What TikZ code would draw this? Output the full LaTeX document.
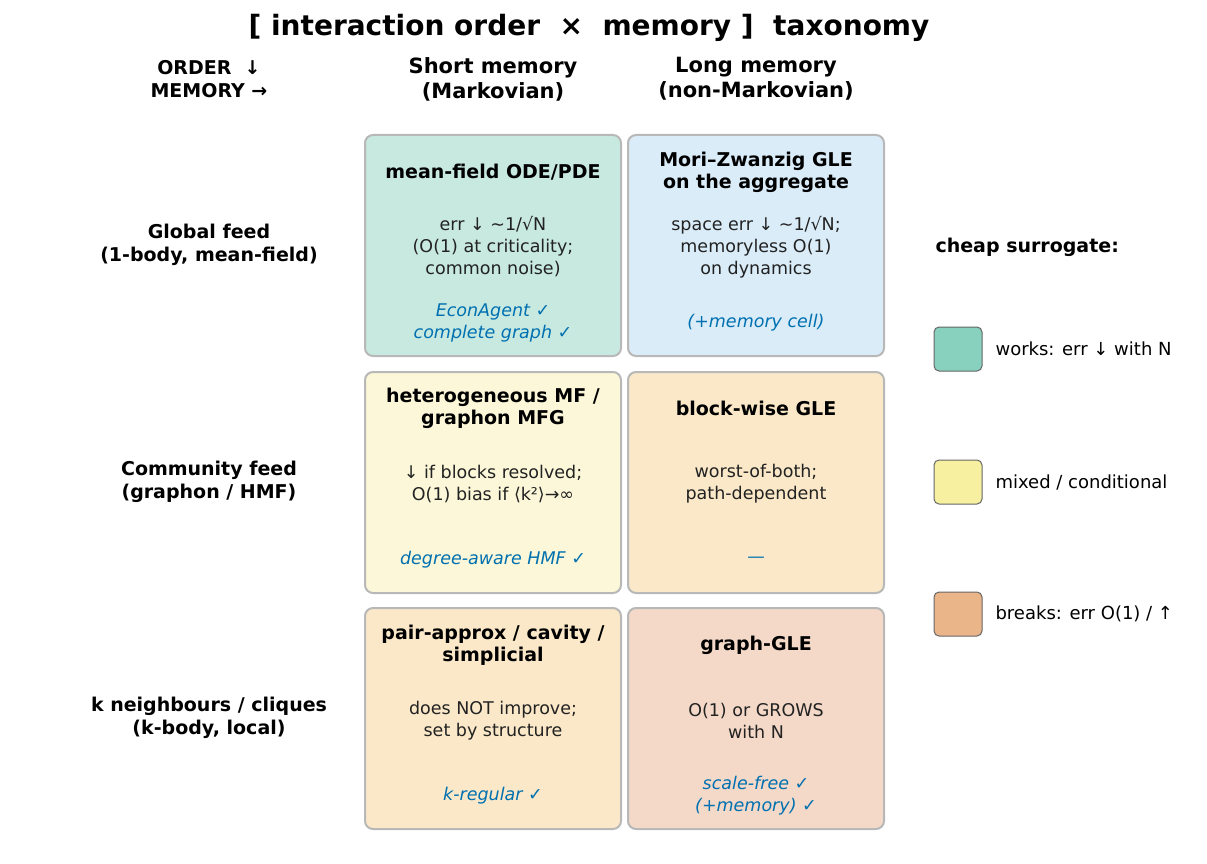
\documentclass[tikz,border=0pt]{standalone}
\usepackage{fontspec}
\setmainfont{DejaVu Sans}
\usetikzlibrary{positioning}
\definecolor{cGreen}{HTML}{C8E9E0}
\definecolor{cBlue}{HTML}{D9ECF8}
\definecolor{cYellow}{HTML}{FBF7D8}
\definecolor{cPeach}{HTML}{FAE8C8}
\definecolor{cSalmon}{HTML}{F4D9C8}
\definecolor{cEdge}{HTML}{B8B8B8}
\definecolor{cText}{HTML}{222222}
\definecolor{cLink}{HTML}{0070B0}
\definecolor{lGreen}{HTML}{88D1BE}
\definecolor{lYellow}{HTML}{F7F0A0}
\definecolor{lOrange}{HTML}{EBB58A}
\tikzset{
  cell/.style={draw=cEdge, line width=2pt, rounded corners=8pt, minimum width=256pt, minimum height=221pt, inner sep=0pt},
  celltitle/.style={font=\fontsize{19}{22}\selectfont\bfseries, align=center},
  cellbody/.style={font=\fontsize{17.5}{22}\selectfont, text=cText, align=center},
  cellnote/.style={font=\fontsize{17.5}{22}\selectfont\itshape, text=cLink, align=center},
  header/.style={font=\fontsize{21}{25}\selectfont\bfseries, align=center},
  rowlab/.style={font=\fontsize{19}{23}\selectfont\bfseries, align=center},
  swatch/.style={draw=black!60, line width=1pt, rounded corners=5pt, minimum width=48pt, minimum height=44pt},
  legtext/.style={font=\fontsize{18}{22}\selectfont, anchor=west},
}
\begin{document}
\begin{tikzpicture}[x=1pt,y=-1pt]
  \useasboundingbox (0,0) rectangle (1207,864);
  \node[font=\fontsize{28}{32}\selectfont\bfseries] (title) at (589,28) {[ interaction order \ × \ memory ] \ taxonomy};
  \node[font=\fontsize{19}{23}\selectfont\bfseries, align=center] (corner) at (209,79) {ORDER \ ↓\\MEMORY →};
  \node[header] (hshort) at (493,79) {Short memory\\(Markovian)};
  \node[header] (hlong) at (756,79) {Long memory\\(non-Markovian)};

  % grid cells
  \node[cell, fill=cGreen] (c11) at (493,245.5) {};
  \node[cell, fill=cBlue] (c12) at (756,245.5) {};
  \node[cell, fill=cYellow] (c21) at (493,482.5) {};
  \node[cell, fill=cPeach] (c22) at (756,482.5) {};
  \node[cell, fill=cPeach] (c31) at (493,718.5) {};
  \node[cell, fill=cSalmon] (c32) at (756,718.5) {};

  % row labels
  \node[rowlab] (r1) at (209,245) {Global feed\\(1-body, mean-field)};
  \node[rowlab] (r2) at (209,482) {Community feed\\(graphon / HMF)};
  \node[rowlab] (r3) at (209,718) {k neighbours / cliques\\(k-body, local)};

  % cell texts
  \node[celltitle] at (493,172) {mean-field ODE/PDE};
  \node[cellbody] at (493,247) {err ↓ \textasciitilde 1/√N\\(O(1) at criticality;\\common noise)};
  \node[cellnote] at (493,323) {EconAgent ✓\\complete graph ✓};

  \node[celltitle] at (756,172) {Mori–Zwanzig GLE\\on the aggregate};
  \node[cellbody] at (756,247) {space err ↓ \textasciitilde 1/√N;\\memoryless O(1)\\on dynamics};
  \node[cellnote] at (756,323) {(+memory cell)};

  \node[celltitle] at (493,408) {heterogeneous MF /\\graphon MFG};
  \node[cellbody] at (493,484) {↓ if blocks resolved;\\O(1) bias if ⟨k²⟩→∞};
  \node[cellnote] at (493,560) {degree-aware HMF ✓};

  \node[celltitle] at (756,408) {block-wise GLE};
  \node[cellbody] at (756,484) {worst-of-both;\\path-dependent};
  \node[cellnote] at (756,560) {—};

  \node[celltitle] at (493,645) {pair-approx / cavity /\\simplicial};
  \node[cellbody] at (493,721) {does NOT improve;\\set by structure};
  \node[cellnote] at (493,796) {k-regular ✓};

  \node[celltitle] at (756,645) {graph-GLE};
  \node[cellbody] at (756,721) {O(1) or GROWS\\with N};
  \node[cellnote] at (756,796) {scale-free ✓\\(+memory) ✓};

  % legend
  \node[font=\fontsize{19}{23}\selectfont\bfseries, anchor=west] (legtitle) at (932,247) {cheap surrogate:};
  \node[swatch, fill=lGreen] (sw1) at (958,349) {};
  \node[legtext] at (992,349) {works: err ↓ with N};
  \node[swatch, fill=lYellow] (sw2) at (958,482) {};
  \node[legtext] at (992,482) {mixed / conditional};
  \node[swatch, fill=lOrange] (sw3) at (958,614) {};
  \node[legtext] at (992,614) {breaks: err O(1) / ↑};
\end{tikzpicture}
\end{document}
